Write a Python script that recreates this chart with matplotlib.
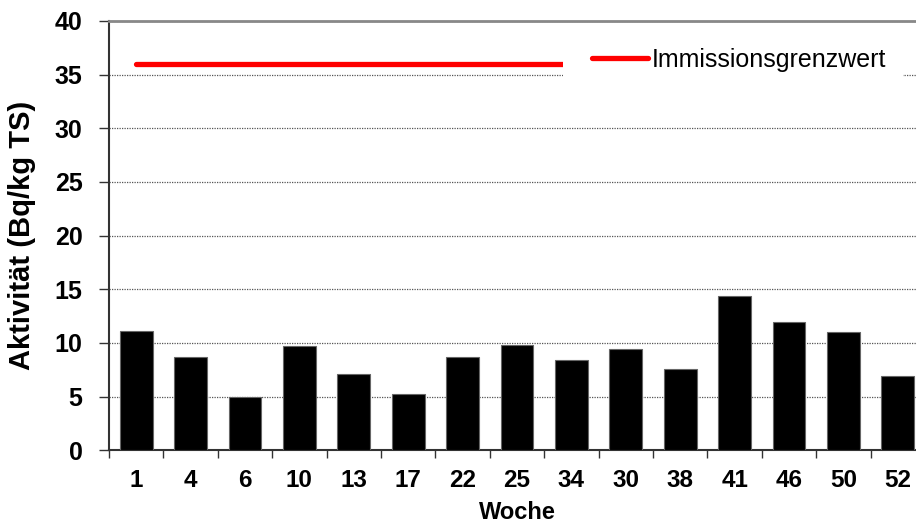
import numpy as np
import matplotlib
matplotlib.use("Agg")
import matplotlib.pyplot as plt
from matplotlib.patches import Rectangle
from matplotlib.lines import Line2D

weeks = ['1', '4', '6', '10', '13', '17', '22', '25', '34', '30', '38', '41', '46', '50', '52']
activity = [11.1, 8.7, 5.0, 9.7, 7.1, 5.2, 8.7, 9.8, 8.4, 9.4, 7.6, 14.4, 12.0, 11.0, 6.9]
limit = [36] * len(weeks)
yticks = [0, 5, 10, 15, 20, 25, 30, 35, 40]

plt.rcParams['font.family'] = ['Liberation Sans', 'DejaVu Sans']

W, H = 916, 524
fig = plt.figure(figsize=(W / 100, H / 100), dpi=100)
left, right, top, bottom = 109, 925, 21, 450.3
ax = fig.add_axes([left / W, 1 - bottom / H, (right - left) / W, (bottom - top) / H])

x = np.arange(len(weeks))
ax.bar(x, activity, width=0.6, color='black', edgecolor='#666666', linewidth=0.8, zorder=3)
ax.plot(x, limit, color='#ff0000', lw=3.8, solid_capstyle='round', zorder=4)

ax.set_xlim(-0.5, len(weeks) - 0.5)
ax.set_ylim(0, 40)
ax.set_yticks(yticks)
ax.set_yticklabels([str(v) for v in yticks], fontsize=18, fontweight='bold')
ax.set_xticks(x)
ax.set_xticklabels(weeks, fontsize=17.5, fontweight='bold')
ax.set_xticks(np.arange(-0.5, len(weeks), 1), minor=True)
ax.tick_params(axis='x', which='major', length=0, pad=13.5)
ax.tick_params(axis='x', which='minor', length=6, width=1, color='#333333', direction='out')
ax.tick_params(axis='y', which='major', length=7, width=1, color='#333333', direction='out', pad=12)

ax.yaxis.grid(True, linestyle=(0, (1, 1)), color='#555555', lw=0.9, zorder=0)
ax.set_axisbelow(True)

ax.spines['right'].set_visible(False)
ax.spines['top'].set_color('#888888')
ax.spines['top'].set_linewidth(2)
ax.spines['left'].set_color('#333333')
ax.spines['left'].set_linewidth(1.5)
ax.spines['bottom'].set_color('#333333')
ax.spines['bottom'].set_linewidth(1.5)

ax.set_ylabel('Aktivität (Bq/kg TS)', fontsize=21, fontweight='bold')
ax.yaxis.set_label_coords((36 - left) / (right - left), 0.5)
ax.set_xlabel('Woche', fontsize=17, fontweight='bold')
ax.xaxis.set_label_coords(0.5, (bottom - 501) / (bottom - top))

# legend background
fig.add_artist(Rectangle((563 / W, 1 - 77 / H), 340 / W, 33 / H, transform=fig.transFigure,
                         facecolor='white', edgecolor='none', zorder=5))
handle = Line2D([], [], color='#ff0000', lw=3.8, solid_capstyle='round')
leg = fig.legend([handle], ['Immissionsgrenzwert'], loc='center left',
                 bbox_to_anchor=(592 / W, 1 - 60 / H), frameon=False, fontsize=18,
                 borderpad=0, borderaxespad=0, handlelength=2.24, handletextpad=0.16)
leg.set_zorder(6)

fig.savefig('out.png', dpi=100)
